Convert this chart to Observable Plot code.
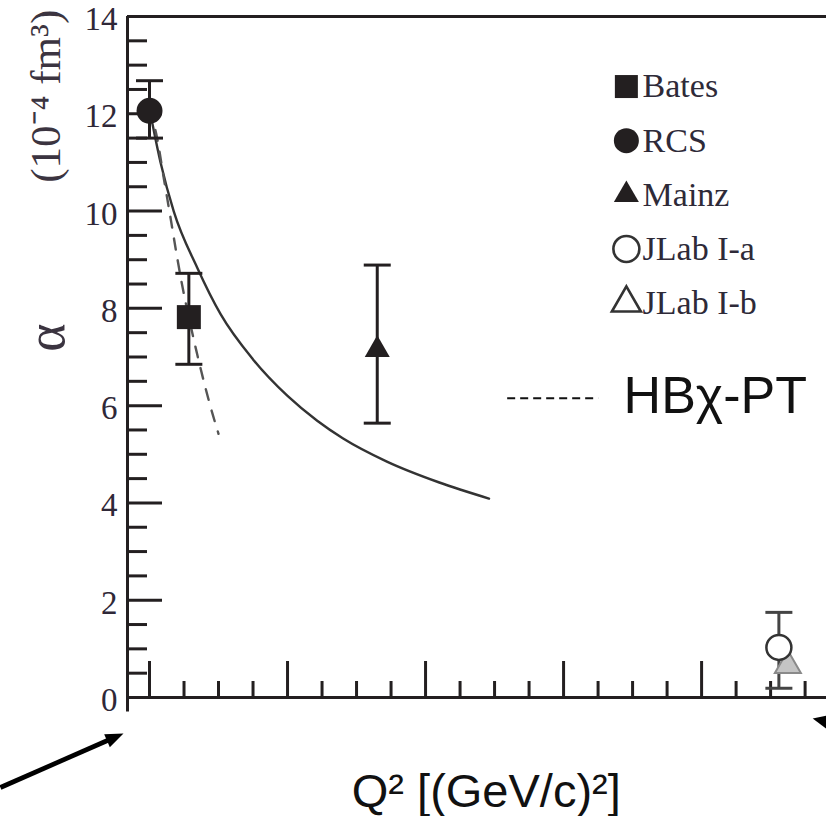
<!DOCTYPE html>
<html><head><meta charset="utf-8">
<script src="https://cdn.jsdelivr.net/npm/d3@7"></script>
<script src="https://cdn.jsdelivr.net/npm/@observablehq/plot@0.6"></script>
<style>html,body{margin:0;padding:0;background:#fff;} #chart svg{display:block;}</style>
</head><body><div id="chart"></div>
<script>
// ---------- data ----------
const experiments = ["Bates", "RCS", "Mainz", "JLab I-a", "JLab I-b"];
const q2Values    = [0.057, 0, 0.33, 0.912, 0.925];
const alphaValues = [7.82, 12.06, 7.15, 1.03, 0.66];
const errLow      = [6.85, 11.5, 5.64, 0.19, null];
const errHigh     = [8.72, 12.68, 8.89, 1.75, null];

// solid theory curve
const solidQ2    = [0, 0.016, 0.035, 0.069, 0.103, 0.15, 0.2, 0.243, 0.28, 0.344, 0.42, 0.492];
const solidAlpha = [12.1, 11.0, 10.0, 8.84, 7.88, 6.95, 6.2, 5.69, 5.33, 4.85, 4.42, 4.09];
// HBχ-PT dashed curve
const hbQ2    = [0, 0.011, 0.021, 0.03, 0.04, 0.047, 0.058, 0.069, 0.079, 0.086, 0.1];
const hbAlpha = [12.1, 11.5, 10.65, 9.9, 9.05, 8.5, 7.75, 7.06, 6.48, 6.1, 5.42];

// ticks
const yLabelTicks = [0, 2, 4, 6, 8, 10, 12, 14];
const yMajorTicks = [2, 4, 6, 8, 10, 12];
const yMinorTicks = [0.5, 1, 1.5, 2.5, 3, 3.5, 4.5, 5, 5.5, 6.5, 7, 7.5, 8.5, 9, 9.5, 10.5, 11, 11.5, 12.5, 13, 13.5];
const xMajorTicks = [0, 0.2, 0.4, 0.6, 0.8];
const xMinorTicks = [0.05, 0.1, 0.15, 0.25, 0.3, 0.35, 0.45, 0.5, 0.55, 0.65, 0.7, 0.75, 0.85, 0.9, 0.95];

// texts
const xTitle = "Q² [(GeV/c)²]";
const yTitleUnit = "(10⁻⁴ fm³)";
const yTitleSymbol = "α";
const theoryLabel = "HBχ-PT";

// ---------- layout / style ----------
const INK = "#231f20";
const xDomain = [-0.0319, 0.981];
const yDomain = [0, 14];

const sq = s => ({draw(c){ c.rect(-s/2, -s/2, s, s); }});
const circ = d => ({draw(c){ c.moveTo(d/2, 0); c.arc(0, 0, d/2, 0, 2*Math.PI); c.closePath(); }});
const tri = w => ({draw(c){ const h = w*Math.sqrt(3)/2; c.moveTo(0, -2*h/3); c.lineTo(w/2, h/3); c.lineTo(-w/2, h/3); c.closePath(); }});
const cap = w => ({draw(c){ c.moveTo(-w/2, 0); c.lineTo(w/2, 0); }});
const head = (deg, L, W) => ({draw(c){
  const a = deg*Math.PI/180, ux = Math.sin(a), uy = -Math.cos(a), px = -uy, py = ux;
  c.moveTo(0, 0);
  c.lineTo(-ux*L + px*W/2, -uy*L + py*W/2);
  c.lineTo(-ux*L - px*W/2, -uy*L - py*W/2);
  c.closePath();
}});

const plotStyle = {
  "Bates":    {symbol: sq(24),   fill: INK, stroke: "none"},
  "RCS":      {symbol: circ(26), fill: INK, stroke: "none"},
  "Mainz":    {symbol: tri(25),  fill: INK, stroke: "none"},
  "JLab I-a": {symbol: circ(25), fill: "white", stroke: "#333", strokeWidth: 2.5},
  "JLab I-b": {symbol: tri(26),  fill: "#c4c4c4", stroke: "#8a8a8a", strokeWidth: 2}
};
const legendStyle = {
  "Bates":    {symbol: sq(23),   fill: INK, stroke: "none"},
  "RCS":      {symbol: circ(25), fill: INK, stroke: "none"},
  "Mainz":    {symbol: tri(25),  fill: INK, stroke: "none"},
  "JLab I-a": {symbol: circ(26), fill: "white", stroke: "#333", strokeWidth: 2.6},
  "JLab I-b": {symbol: tri(29),  fill: "white", stroke: "#333", strokeWidth: 2.6}
};
const barColor = {"Bates": INK, "RCS": INK, "Mainz": INK, "JLab I-a": "#444"};

// legend layout (data units)
const legendMarkX = 0.691, legendTextX = 0.7145, legendTop = 12.56, legendStep = 1.113;

// ---------- build ----------
const points = experiments.map((name, i) => ({name, q2: q2Values[i], alpha: alphaValues[i], lo: errLow[i], hi: errHigh[i]}));
const bars = points.filter(d => d.lo != null);
const solid = solidQ2.map((x, i) => ({x, y: solidAlpha[i]}));
const hb = hbQ2.map((x, i) => ({x, y: hbAlpha[i]}));
const legend = experiments.map((name, i) => ({name, y: legendTop - i*legendStep}));

const marks = [
  // frame lines
  Plot.ruleY([yDomain[1]], {stroke: INK, strokeWidth: 3}),
  Plot.ruleY([0], {stroke: INK, strokeWidth: 3}),
  Plot.ruleX([xDomain[0]], {y1: -0.3, y2: yDomain[1], stroke: INK, strokeWidth: 3}),
  // ticks (inward)
  Plot.axisY(yMajorTicks, {anchor: "left", tickSize: -35, fill: "none", stroke: INK, strokeWidth: 3, label: null}),
  Plot.axisY(yMinorTicks, {anchor: "left", tickSize: -20, fill: "none", stroke: INK, strokeWidth: 3, label: null}),
  Plot.axisY(yLabelTicks, {anchor: "left", tickSize: 0, tickPadding: 10, dy: 3, fontSize: 33, fontFamily: "Liberation Serif", fill: "#2f2838", label: null, tickFormat: d => String(d)}),
  Plot.axisX(xMajorTicks, {anchor: "bottom", tickSize: -36, fill: "none", stroke: INK, strokeWidth: 3, label: null}),
  Plot.axisX(xMinorTicks, {anchor: "bottom", tickSize: -16, fill: "none", stroke: INK, strokeWidth: 3, label: null}),
  // curves
  Plot.line(solid, {x: "x", y: "y", curve: "monotone-x", stroke: "#333", strokeWidth: 2.4}),
  Plot.line(hb, {x: "x", y: "y", curve: "monotone-x", stroke: "#555", strokeWidth: 2.4, strokeDasharray: "11,11"}),
  // error bars
  Plot.ruleX(bars, {x: "q2", y1: "lo", y2: "hi", stroke: d => barColor[d.name], strokeWidth: 3}),
  Plot.dot(bars, {x: "q2", y: "lo", symbol: cap(27), stroke: d => barColor[d.name], strokeWidth: 3}),
  Plot.dot(bars, {x: "q2", y: "hi", symbol: cap(27), stroke: d => barColor[d.name], strokeWidth: 3}),
];
// markers (I-b drawn before I-a)
["Bates", "RCS", "Mainz", "JLab I-b", "JLab I-a"].forEach(name => {
  marks.push(Plot.dot(points.filter(d => d.name === name), {x: "q2", y: "alpha", r: 5, ...plotStyle[name]}));
});
// legend
legend.forEach(d => {
  marks.push(Plot.dot([d], {x: () => legendMarkX, y: "y", r: 5, ...legendStyle[d.name]}));
});
marks.push(Plot.text(legend, {x: () => legendTextX, y: "y", text: "name", textAnchor: "start", fontSize: 34, fontFamily: "Liberation Serif", fill: "#2e2a38"}));
// HBχ-PT key
marks.push(Plot.ruleY([6.15], {x1: 0.519, x2: 0.651, stroke: "#111", strokeWidth: 2, strokeDasharray: "8,5"}));
marks.push(Plot.text([theoryLabel], {x: () => 0.687, y: () => 6.2, text: d => d, textAnchor: "start", fontSize: 52, fontFamily: "Liberation Sans, Arial, sans-serif", fill: "#111"}));
// axis titles
marks.push(Plot.text([xTitle], {x: () => 0.488, y: () => -1.95, text: d => d, fontSize: 47, fontFamily: "Liberation Sans, Arial, sans-serif", fill: "#111"}));
marks.push(Plot.text([yTitleUnit], {x: () => -0.149, y: () => 12.36, text: d => d, rotate: -90, fontSize: 43, fontFamily: "Liberation Serif", fill: "#3b3440"}));
marks.push(Plot.text([yTitleSymbol], {x: () => -0.149, y: () => 7.4, text: d => d, rotate: -90, fontSize: 54, fontFamily: "Liberation Serif", fill: "#3b3440"}));
// arrows
marks.push(Plot.link([{x1: -0.216, y1: -1.85, x2: -0.051, y2: -0.822}], {x1: "x1", y1: "y1", x2: "x2", y2: "y2", stroke: "#000", strokeWidth: 4.7}));
marks.push(Plot.dot([{x: -0.0377, y: -0.74}], {x: "x", y: "y", r: 5, symbol: head(66.3, 18, 14), fill: "#000", stroke: "none"}));
marks.push(Plot.dot([{x: 0.961, y: -0.43}], {x: "x", y: "y", r: 5, symbol: head(-77, 18, 16), fill: "#000", stroke: "none"}));

const chart = Plot.plot({
  width: 826,
  height: 816,
  marginLeft: 127,
  marginRight: 0,
  marginTop: 16,
  marginBottom: 119,
  x: {domain: xDomain, axis: null},
  y: {domain: yDomain, axis: null},
  style: {background: "white", color: INK},
  marks
});
document.getElementById("chart").appendChild(chart);
</script>
</body></html>
